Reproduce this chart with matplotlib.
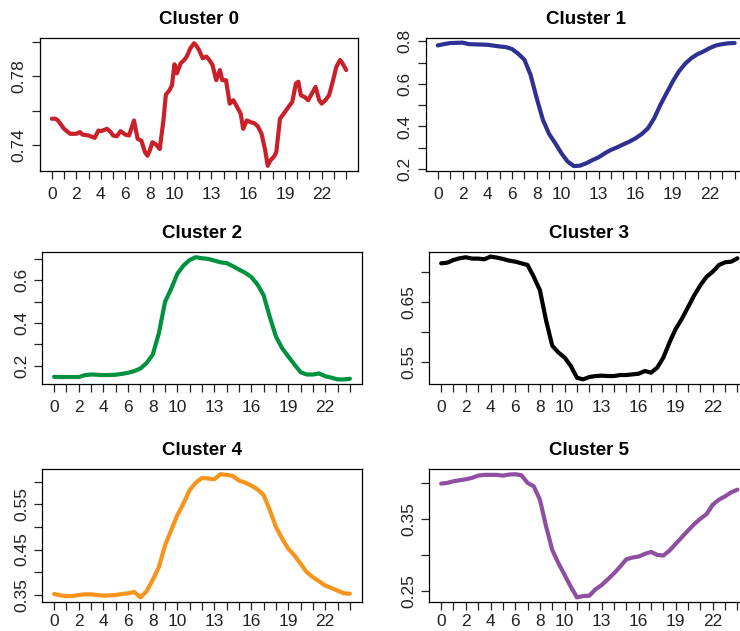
import numpy as np
import matplotlib.pyplot as plt

plt.rcParams['font.family'] = ['Liberation Sans', 'DejaVu Sans']

# Cluster 0 is jagged, so it has its own hour positions
hours0 = [0, 0.3, 0.5, 1, 1.5, 2, 2.3, 2.5, 3, 3.5, 3.8, 4, 4.5, 4.8, 5, 5.3, 5.6, 6,
          6.3, 6.7, 7, 7.3, 7.6, 7.8, 8, 8.2, 8.5, 8.8, 9.1, 9.3, 9.6, 9.8, 10, 10.2,
          10.5, 10.8, 11, 11.3, 11.6, 11.8, 12, 12.3, 12.6, 12.8, 13.1, 13.4, 13.7,
          13.9, 14.2, 14.5, 14.8, 15.1, 15.4, 15.6, 15.9, 16.2, 16.5, 16.8, 17.1,
          17.4, 17.6, 17.8, 18.1, 18.3, 18.6, 18.9, 19.3, 19.6, 19.9, 20.1, 20.3,
          20.6, 20.9, 21.2, 21.5, 21.8, 22, 22.3, 22.6, 22.9, 23.2, 23.5, 23.7, 24]
cluster0 = [0.7553, 0.7553, 0.7543, 0.7494, 0.7465, 0.7465, 0.7475, 0.746, 0.7455,
            0.7441, 0.7484, 0.748, 0.7494, 0.7475, 0.7455, 0.745, 0.748, 0.746,
            0.7455, 0.7543, 0.7435, 0.7425, 0.7357, 0.7337, 0.737, 0.7416, 0.7402,
            0.7376, 0.7543, 0.7694, 0.772, 0.7749, 0.7871, 0.7818, 0.7876, 0.7896,
            0.7916, 0.7965, 0.7994, 0.7978, 0.7955, 0.7906, 0.7916, 0.79, 0.7867,
            0.7778, 0.7837, 0.7778, 0.7778, 0.7641, 0.7661, 0.7622, 0.7582, 0.7494,
            0.7543, 0.7533, 0.7527, 0.7508, 0.7465, 0.7367, 0.7278, 0.7308, 0.7331,
            0.7357, 0.7553, 0.7582, 0.7622, 0.7651, 0.7759, 0.7769, 0.769, 0.768,
            0.7661, 0.77, 0.7739, 0.7661, 0.7641, 0.7661, 0.769, 0.7769, 0.7857,
            0.7896, 0.7876, 0.7837]

# the others are read every half hour
hours = np.arange(0, 24.5, 0.5)
cluster1 = [0.781, 0.787, 0.792, 0.793, 0.794, 0.787, 0.786, 0.785, 0.784, 0.780,
            0.776, 0.773, 0.764, 0.742, 0.714, 0.643, 0.533, 0.431, 0.365, 0.321,
            0.274, 0.235, 0.214, 0.216, 0.227, 0.242, 0.255, 0.274, 0.290, 0.302,
            0.316, 0.329, 0.345, 0.365, 0.392, 0.439, 0.502, 0.557, 0.612, 0.659,
            0.695, 0.721, 0.740, 0.753, 0.769, 0.781, 0.787, 0.791, 0.792]
cluster2 = [0.147, 0.146, 0.146, 0.146, 0.146, 0.155, 0.158, 0.157, 0.155, 0.156,
            0.157, 0.161, 0.166, 0.174, 0.186, 0.212, 0.251, 0.352, 0.499, 0.561,
            0.631, 0.670, 0.696, 0.709, 0.704, 0.701, 0.693, 0.685, 0.681, 0.667,
            0.651, 0.636, 0.616, 0.581, 0.530, 0.429, 0.336, 0.282, 0.243, 0.205,
            0.169, 0.158, 0.158, 0.163, 0.150, 0.143, 0.135, 0.135, 0.138]
cluster3 = [0.7146, 0.7157, 0.7202, 0.723, 0.7247, 0.7225, 0.7225, 0.7213, 0.7258,
            0.7242, 0.7219, 0.7191, 0.7174, 0.7146, 0.7118, 0.6921, 0.6697, 0.6191,
            0.577, 0.5657, 0.5573, 0.5433, 0.5236, 0.5208, 0.5247, 0.5264, 0.527,
            0.5264, 0.5264, 0.5281, 0.5281, 0.5292, 0.5303, 0.5348, 0.532, 0.5404,
            0.5573, 0.5826, 0.6051, 0.6219, 0.6416, 0.6612, 0.6781, 0.6921, 0.7006,
            0.7118, 0.7163, 0.7174, 0.723]
cluster4 = [0.3515, 0.3485, 0.347, 0.347, 0.3493, 0.3507, 0.3507, 0.3493, 0.3478,
            0.3485, 0.3493, 0.3515, 0.353, 0.356, 0.344, 0.3574, 0.3827, 0.411,
            0.4593, 0.4927, 0.5262, 0.5522, 0.582, 0.5983, 0.6087, 0.6073, 0.6058,
            0.6169, 0.6154, 0.6132, 0.6028, 0.5983, 0.5916, 0.5835, 0.5708, 0.5374,
            0.5002, 0.4742, 0.4519, 0.437, 0.4184, 0.3998, 0.3887, 0.3797, 0.3701,
            0.3649, 0.3589, 0.353, 0.3522]
cluster5 = [0.3995, 0.4005, 0.4028, 0.4042, 0.4056, 0.4075, 0.4107, 0.4117, 0.4117,
            0.4117, 0.4107, 0.4121, 0.4126, 0.4112, 0.4005, 0.3958, 0.3771, 0.3397,
            0.307, 0.2883, 0.272, 0.2556, 0.2407, 0.2425, 0.243, 0.2519, 0.2579,
            0.2659, 0.2743, 0.2836, 0.2939, 0.2963, 0.2977, 0.3014, 0.3042, 0.3,
            0.2991, 0.3061, 0.3154, 0.3248, 0.3341, 0.343, 0.3505, 0.357, 0.3701,
            0.3771, 0.3818, 0.3874, 0.3911]

colors = ["#C9202A", "#2E3192", "#00923F", "#000000", "#F7941D", "#8E4FA0"]

xticks = np.arange(0, 25)
xlabels = ["0", "2", "4", "6", "8", "10", "13", "16", "19", "22"]

# y ticks and which of them R managed to label
yticks = [[0.74, 0.76, 0.78, 0.80], [0.2, 0.3, 0.4, 0.5, 0.6, 0.7, 0.8],
          [0.2, 0.3, 0.4, 0.5, 0.6, 0.7], [0.55, 0.60, 0.65, 0.70],
          [0.35, 0.40, 0.45, 0.50, 0.55, 0.60], [0.25, 0.30, 0.35, 0.40]]
ylabels = [["0.74", "", "0.78", ""], ["0.2", "", "0.4", "", "0.6", "", "0.8"],
           ["0.2", "", "0.4", "", "0.6", ""], ["0.55", "", "0.65", ""],
           ["0.35", "", "0.45", "", "0.55", ""], ["0.25", "", "0.35", ""]]

# plot boxes in pixels: left, top, right, bottom
boxes = [(40, 38.3, 358, 170.7), (425.9, 37.7, 746.5, 171),
         (42.3, 252.3, 361.7, 384.3), (429.3, 251.7, 749.3, 384.3),
         (42.3, 469.3, 361.7, 602.3), (429.3, 469.3, 749.3, 602.3)]

W, H = 740, 631
fig = plt.figure(figsize=(W/100, H/100), dpi=100)

series = [(hours0, cluster0), (hours, cluster1), (hours, cluster2),
          (hours, cluster3), (hours, cluster4), (hours, cluster5)]

for i, (x, y) in enumerate(series):
    l, t, r, b = boxes[i]
    ax = fig.add_axes([l/W, 1 - b/H, (r - l)/W, (b - t)/H])
    ax.plot(x, y, color=colors[i], lw=3.0, solid_capstyle='round',
            solid_joinstyle='round')

    # R style 4% padding
    lo, hi = min(y), max(y)
    pad = 0.04*(hi - lo)
    ax.set_ylim(lo - pad, hi + pad)
    ax.set_xlim(-0.96, 24.96)

    ax.set_xticks(xticks)
    ax.set_xticklabels([str(h) if str(h) in xlabels else "" for h in xticks])
    ax.set_yticks(yticks[i])
    ax.set_yticklabels(ylabels[i], rotation=90, va='center')
    ax.tick_params(direction='out', length=5.5, width=0.9, labelsize=12.5, colors='#222222')
    # bottom row sits right on the edge of the picture
    ax.tick_params(axis='x', pad=6 if i < 4 else 3)
    ax.tick_params(axis='y', pad=4)
    for s in ax.spines.values():
        s.set_linewidth(0.9)
    ax.set_title("Cluster %d" % i, fontsize=13.5, fontweight='bold', pad=10)

fig.savefig("out.png", dpi=100)
